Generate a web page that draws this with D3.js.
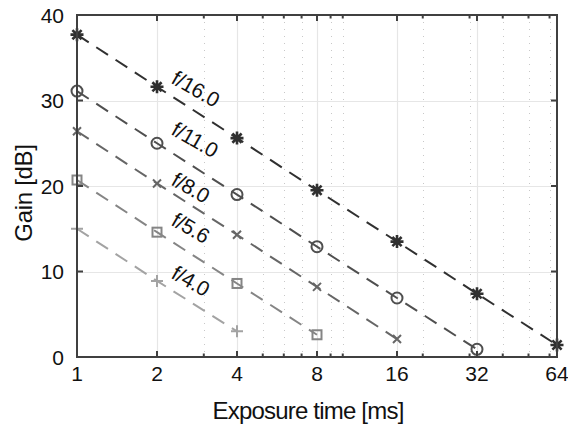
<!DOCTYPE html>
<html>
<head>
<meta charset="utf-8">
<title>Gain vs exposure time</title>
<script src="https://cdn.jsdelivr.net/npm/d3@7"></script>
<style>
  body { margin: 0; background: #fff; }
  text { font-family: "Liberation Sans", Arial, sans-serif; fill: #111; }
</style>
</head>
<body>
<script>
// exposure times [ms]
var exposure = [1, 2, 4, 8, 16, 32, 64];

// gain [dB] per aperture
var gainF16  = [37.7, 31.6, 25.6, 19.5, 13.5, 7.4, 1.4];
var gainF11  = [31.1, 25.0, 19.0, 12.9, 6.9, 0.9];
var gainF8   = [26.4, 20.3, 14.3, 8.2, 2.1];
var gainF56  = [20.7, 14.6, 8.6, 2.6];
var gainF4   = [15.0, 8.9, 3.0];

var seriesNames = ["f/16.0", "f/11.0", "f/8.0", "f/5.6", "f/4.0"];
var seriesGains = [gainF16, gainF11, gainF8, gainF56, gainF4];
var seriesMarks = ["star", "circle", "x", "square", "plus"];
var seriesColor = ["#303030", "#4f4f4f", "#666666", "#858585", "#a3a3a3"];
// where the curve labels sit (data coords)
var labelAt = [[2.24, 32.1], [2.24, 26.1], [2.24, 20.2], [2.24, 15.5], [2.24, 9.3]];

var xTicks = [1, 2, 4, 8, 16, 32, 64];
var xMinor = [3, 5, 6, 7, 9, 10, 20, 30, 40, 50, 60];
var yTicks = [0, 10, 20, 30, 40];

var width = 568, height = 428;
var margin = { top: 15, right: 11, bottom: 71, left: 77 };

var svg = d3.select("body").append("svg")
  .attr("width", width).attr("height", height);

var x = d3.scaleLog().base(2).domain([1, 64])
  .range([margin.left, width - margin.right]);
var y = d3.scaleLinear().domain([0, 40])
  .range([height - margin.bottom, margin.top]);

var x0 = x.range()[0], x1 = x.range()[1];
var y0 = y.range()[0], y1 = y.range()[1];

// grid
var grid = svg.append("g");
grid.selectAll(".mx").data(xMinor).enter().append("line")
  .attr("x1", d => Math.round(x(d)) + 0.5).attr("x2", d => Math.round(x(d)) + 0.5)
  .attr("y1", y1).attr("y2", y0)
  .attr("stroke", "#c8c8c8").attr("stroke-width", 1)
  .attr("stroke-dasharray", "1,6");
grid.selectAll(".gx").data(xTicks.slice(1, -1)).enter().append("line")
  .attr("x1", d => Math.round(x(d)) + 0.5).attr("x2", d => Math.round(x(d)) + 0.5)
  .attr("y1", y1).attr("y2", y0)
  .attr("stroke", "#e6e6e6").attr("stroke-width", 1.2);
grid.selectAll(".gy").data(yTicks.slice(1, -1)).enter().append("line")
  .attr("x1", x0).attr("x2", x1)
  .attr("y1", d => Math.round(y(d)) + 0.5).attr("y2", d => Math.round(y(d)) + 0.5)
  .attr("stroke", "#e6e6e6").attr("stroke-width", 1.2);

// series lines
var line = d3.line()
  .x((d, i) => x(exposure[i]))
  .y(d => y(d));

seriesGains.forEach(function(g, k) {
  svg.append("path")
    .datum(g)
    .attr("d", line)
    .attr("fill", "none")
    .attr("stroke", seriesColor[k])
    .attr("stroke-width", 2)
    .attr("stroke-dasharray", "14,9");
});

// markers
function marker(sel, type, c) {
  if (type === "circle") {
    sel.append("circle").attr("r", 5.5).attr("fill", "none")
      .attr("stroke", c).attr("stroke-width", 2);
  } else if (type === "square") {
    sel.append("rect").attr("x", -4.5).attr("y", -4.5).attr("width", 9).attr("height", 9)
      .attr("fill", "none").attr("stroke", c).attr("stroke-width", 2);
  } else if (type === "plus") {
    sel.append("path").attr("d", "M-6,0H6M0,-6V6")
      .attr("stroke", c).attr("stroke-width", 2);
  } else if (type === "x") {
    sel.append("path").attr("d", "M-4,-4L4,4M-4,4L4,-4")
      .attr("stroke", c).attr("stroke-width", 2);
  } else {
    sel.append("path").attr("d", "M-6.5,0H6.5M0,-6.5V6.5M-4.6,-4.6L4.6,4.6M-4.6,4.6L4.6,-4.6")
      .attr("stroke", c).attr("stroke-width", 2.6);
    sel.append("circle").attr("r", 2.5).attr("fill", c);
  }
}

seriesGains.forEach(function(g, k) {
  svg.append("g").selectAll("g")
    .data(g).enter().append("g")
    .attr("transform", (d, i) => "translate(" + x(exposure[i]) + "," + y(d) + ")")
    .each(function() { marker(d3.select(this), seriesMarks[k], seriesColor[k]); });
});

// curve labels
svg.append("g").selectAll("text")
  .data(seriesNames).enter().append("text")
  .attr("transform", (d, i) => "translate(" + x(labelAt[i][0]) + "," + y(labelAt[i][1]) + ") rotate(30)")
  .attr("font-size", "21px")
  .attr("letter-spacing", "-0.3px")
  .text(d => d);

// axes box
var axisColor = "#404040";
svg.append("rect")
  .attr("x", x0).attr("y", y1)
  .attr("width", x1 - x0).attr("height", y0 - y1)
  .attr("fill", "none").attr("stroke", axisColor).attr("stroke-width", 2);

// tick marks (inward, bottom + top, left + right)
var ticks = svg.append("g").attr("stroke", axisColor).attr("stroke-width", 2);
xTicks.forEach(function(v) {
  ticks.append("line").attr("x1", x(v)).attr("x2", x(v)).attr("y1", y0).attr("y2", y0 - 6);
  ticks.append("line").attr("x1", x(v)).attr("x2", x(v)).attr("y1", y1).attr("y2", y1 + 6);
});
xMinor.forEach(function(v) {
  ticks.append("line").attr("x1", x(v)).attr("x2", x(v)).attr("y1", y0).attr("y2", y0 - 3.5);
  ticks.append("line").attr("x1", x(v)).attr("x2", x(v)).attr("y1", y1).attr("y2", y1 + 3.5);
});
yTicks.forEach(function(v) {
  ticks.append("line").attr("x1", x0).attr("x2", x0 + 6).attr("y1", y(v)).attr("y2", y(v));
  ticks.append("line").attr("x1", x1).attr("x2", x1 - 6).attr("y1", y(v)).attr("y2", y(v));
});

// tick labels
svg.append("g").selectAll("text")
  .data(xTicks).enter().append("text")
  .attr("x", d => x(d)).attr("y", y0 + 24)
  .attr("text-anchor", "middle")
  .attr("font-size", "21px")
  .text(d => d);

svg.append("g").selectAll("text")
  .data(yTicks).enter().append("text")
  .attr("x", x0 - 13).attr("y", d => y(d) + 7.5)
  .attr("text-anchor", "end")
  .attr("font-size", "21px")
  .text(d => d);

// axis titles
svg.append("text")
  .attr("x", (x0 + x1) / 2 - 9).attr("y", 419)
  .attr("text-anchor", "middle")
  .attr("font-size", "24px")
  .attr("letter-spacing", "-0.8px")
  .text("Exposure time [ms]");

svg.append("text")
  .attr("transform", "translate(32," + ((y0 + y1) / 2 + 7) + ") rotate(-90)")
  .attr("text-anchor", "middle")
  .attr("font-size", "24px")
  .attr("letter-spacing", "-0.3px")
  .text("Gain [dB]");
</script>
</body>
</html>
